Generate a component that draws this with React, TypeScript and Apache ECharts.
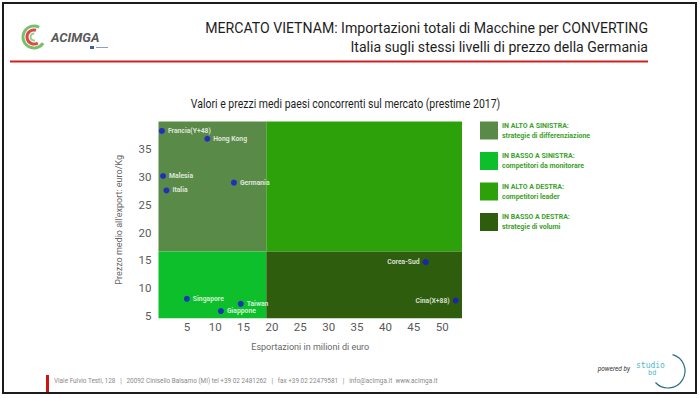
import React, { useEffect, useRef } from "react";
import * as echarts from "echarts";

// ---- data ----
const COUNTRIES = ["Francia(Y+48)", "Hong Kong", "Malesia", "Italia", "Germania", "Corea-Sud", "Cina(X+88)", "Singapore", "Taiwan", "Giappone"];
const EXPORTS_MEUR = [0.6, 8.6, 0.8, 1.4, 13.3, 47.1, 52.4, 5.0, 14.5, 11.0];
const PRICE_EUR_KG = [38.3, 36.9, 30.2, 27.6, 29.0, 14.7, 7.8, 8.1, 7.2, 5.9];
const X_TICKS = [5, 10, 15, 20, 25, 30, 35, 40, 45, 50];
const Y_TICKS = [5, 10, 15, 20, 25, 30, 35];
const X_MIN = 0;
const X_MAX = 53.5;
const Y_MIN = 4.6;
const Y_MAX = 40;
const X_SPLIT = 19;
const Y_SPLIT = 16.6;
const LEGEND_TITLES = ["IN ALTO A SINISTRA:", "IN BASSO A SINISTRA:", "IN ALTO A DESTRA:", "IN BASSO A DESTRA:"];
const LEGEND_SUBTITLES = ["strategie di differenziazione", "competitori da monitorare", "competitori leader", "strategie di volumi"];
const LEFT_LABELS = ["Corea-Sud", "Cina(X+88)"];

const HEADER_1 = "MERCATO VIETNAM: Importazioni totali di Macchine per CONVERTING";
const HEADER_2 = "Italia sugli stessi livelli di prezzo della Germania";
const CHART_TITLE = "Valori e prezzi medi paesi concorrenti sul mercato (prestime 2017)";
const X_NAME = "Esportazioni in milioni di euro";
const Y_NAME = "Prezzo medio all'export: euro/Kg";
const FOOTER = "Viale Fulvio Testi, 128   |   20092 Cinisello Balsamo (MI) tel +39 02 2481262   |   fax +39 02 22479581   |   info@acimga.it  www.acimga.it";

// styles
const C_TL = "#5a8a47";
const C_BL = "#0cbf2b";
const C_TR = "#2da10a";
const C_BR = "#2d5d0d";
const QUAD_COLORS = [C_TL, C_BL, C_TR, C_BR];
const FONT = "Roboto, 'Noto Sans', sans-serif";

export default function App() {
  const ref = useRef<HTMLDivElement>(null);
  useEffect(() => {
    document.body.style.margin = "0";
    const chart = echarts.init(ref.current!, null, { renderer: "svg" });

    const points = COUNTRIES.map((name, i) => ({
      name,
      value: [EXPORTS_MEUR[i], PRICE_EUR_KG[i]],
      label: { position: LEFT_LABELS.includes(name) ? "left" : "right" },
    }));

    const legendY = [121.5, 152, 182.5, 213];
    const legendGraphics: any[] = [];
    LEGEND_TITLES.forEach((t, i) => {
      legendGraphics.push({
        type: "rect",
        shape: { x: 480, y: legendY[i], width: 18, height: 18 },
        style: { fill: QUAD_COLORS[i] },
      });
      legendGraphics.push({
        type: "text",
        x: 502,
        y: legendY[i] + 4,
        scaleX: 1.0,
        style: { text: t, fontSize: 7, fontWeight: "bold", fill: "#3d9f2a", fontFamily: FONT, verticalAlign: "middle" },
      });
      legendGraphics.push({
        type: "text",
        x: 502,
        y: legendY[i] + 14,
        scaleX: 1.0,
        style: { text: LEGEND_SUBTITLES[i], fontSize: 7, fontWeight: "bold", fill: "#3d9f2a", fontFamily: FONT, verticalAlign: "middle" },
      });
    });

    const option: any = {
      animation: false,
      backgroundColor: "#ffffff",
      grid: { left: 158.5, top: 121.5, width: 303.5, height: 196.8 },
      xAxis: {
        type: "value",
        min: X_MIN,
        max: X_MAX,
        name: X_NAME,
        nameLocation: "middle",
        nameGap: 24,
        nameTextStyle: { color: "#666", fontSize: 9, fontFamily: FONT },
        axisLine: { show: false },
        axisTick: { show: false },
        splitLine: { show: false },
        axisLabel: { customValues: X_TICKS, color: "#5a5a5a", fontSize: 11.5, fontFamily: FONT, margin: 3 },
      },
      yAxis: {
        type: "value",
        min: Y_MIN,
        max: Y_MAX,
        name: Y_NAME,
        nameLocation: "middle",
        nameRotate: 90,
        nameGap: 35,
        nameTextStyle: { color: "#666", fontSize: 9, fontFamily: FONT },
        axisLine: { show: false },
        axisTick: { show: false },
        splitLine: { show: false },
        axisLabel: { customValues: Y_TICKS, color: "#5a5a5a", fontSize: 11.5, fontFamily: FONT, margin: 7 },
      },
      series: [
        {
          type: "scatter",
          symbol: "circle",
          symbolSize: 6,
          itemStyle: { color: "#1616d8" },
          label: {
            show: true,
            formatter: "{b}",
            color: "#ffffff",
            fontSize: 6.8,
            fontWeight: "bold",
            fontFamily: FONT,
            distance: 3,
          },
          data: points,
          markArea: {
            silent: true,
            label: { show: false },
            data: [
              [{ xAxis: X_MIN, yAxis: Y_SPLIT, itemStyle: { color: C_TL, opacity: 1 } }, { xAxis: X_SPLIT, yAxis: Y_MAX }],
              [{ xAxis: X_MIN, yAxis: Y_MIN, itemStyle: { color: C_BL, opacity: 1 } }, { xAxis: X_SPLIT, yAxis: Y_SPLIT }],
              [{ xAxis: X_SPLIT, yAxis: Y_SPLIT, itemStyle: { color: C_TR, opacity: 1 } }, { xAxis: X_MAX, yAxis: Y_MAX }],
              [{ xAxis: X_SPLIT, yAxis: Y_MIN, itemStyle: { color: C_BR, opacity: 1 } }, { xAxis: X_MAX, yAxis: Y_SPLIT }],
            ],
          },
        },
      ],
      graphic: [
        { type: "rect", shape: { x: 3, y: 3, width: 693, height: 390 }, style: { fill: "none", stroke: "#1c1c1c", lineWidth: 2 } },
        // ACIMGA logo
        { type: "arc", shape: { cx: 34, cy: 37, r: 11, startAngle: 0.6, endAngle: 5.2 }, style: { stroke: "#7cbf6a", lineWidth: 3, fill: "none" } },
        { type: "arc", shape: { cx: 34, cy: 37, r: 7, startAngle: 1.0, endAngle: 5.0 }, style: { stroke: "#d94a4a", lineWidth: 3, fill: "none" } },
        { type: "arc", shape: { cx: 34, cy: 37, r: 3.5, startAngle: 1.3, endAngle: 4.8 }, style: { stroke: "#9ccf8c", lineWidth: 2, fill: "none" } },
        { type: "text", x: 51, y: 37, style: { text: "ACIMGA", fontSize: 13, fontStyle: "italic", fontWeight: "bold", fill: "#5a5a5a", fontFamily: FONT, verticalAlign: "middle" } },
        { type: "rect", shape: { x: 90, y: 46, width: 4, height: 3 }, style: { fill: "#3a5fb0" } },
        { type: "rect", shape: { x: 96, y: 47, width: 12, height: 1 }, style: { fill: "#8aa0c8" } },
        // header
        { type: "text", x: 648, y: 28, scaleX: 0.94, style: { text: HEADER_1, fontSize: 15, fill: "#1e1e1e", fontFamily: FONT, align: "right", verticalAlign: "middle" } },
        { type: "text", x: 648, y: 47.5, scaleX: 0.94, style: { text: HEADER_2, fontSize: 15, fill: "#1e1e1e", fontFamily: FONT, align: "right", verticalAlign: "middle" } },
        { type: "line", shape: { x1: 10, y1: 61.5, x2: 648, y2: 61.5 }, style: { stroke: "#d21f1f", lineWidth: 2 } },
        // chart title
        { type: "text", x: 345.5, y: 103.5, scaleX: 0.84, style: { text: CHART_TITLE, fontSize: 12.5, fill: "#1e1e1e", fontFamily: FONT, align: "center", verticalAlign: "middle" } },
        ...legendGraphics,
        // footer
        { type: "rect", shape: { x: 46, y: 375, width: 3, height: 17 }, style: { fill: "#cc1414" } },
        { type: "text", x: 54, y: 381, scaleX: 1.0, style: { text: FOOTER, fontSize: 6.4, fill: "#8a8a8a", fontFamily: FONT, verticalAlign: "middle" } },
        { type: "text", x: 630, y: 369, style: { text: "powered by", fontSize: 6.5, fontStyle: "italic", fill: "#333", fontFamily: FONT, align: "right", verticalAlign: "middle" } },
        { type: "text", x: 636, y: 365, style: { text: "studio", fontSize: 8, fill: "#4fb8c8", fontFamily: "'DejaVu Sans Mono', monospace", verticalAlign: "middle" } },
        { type: "text", x: 648, y: 373, style: { text: "bd", fontSize: 7, fill: "#4fb8c8", fontFamily: "'DejaVu Sans Mono', monospace", verticalAlign: "middle" } },
        { type: "arc", shape: { cx: 668, cy: 371, r: 17, startAngle: -1.3, endAngle: 2.4 }, style: { stroke: "#2f6f86", lineWidth: 1.2, fill: "none" } },
      ],
    };
    chart.setOption(option);
    return () => chart.dispose();
  }, []);
  return <div ref={ref} style={{ width: 700, height: 398, position: "absolute", left: 0, top: 0 }} />;
}
